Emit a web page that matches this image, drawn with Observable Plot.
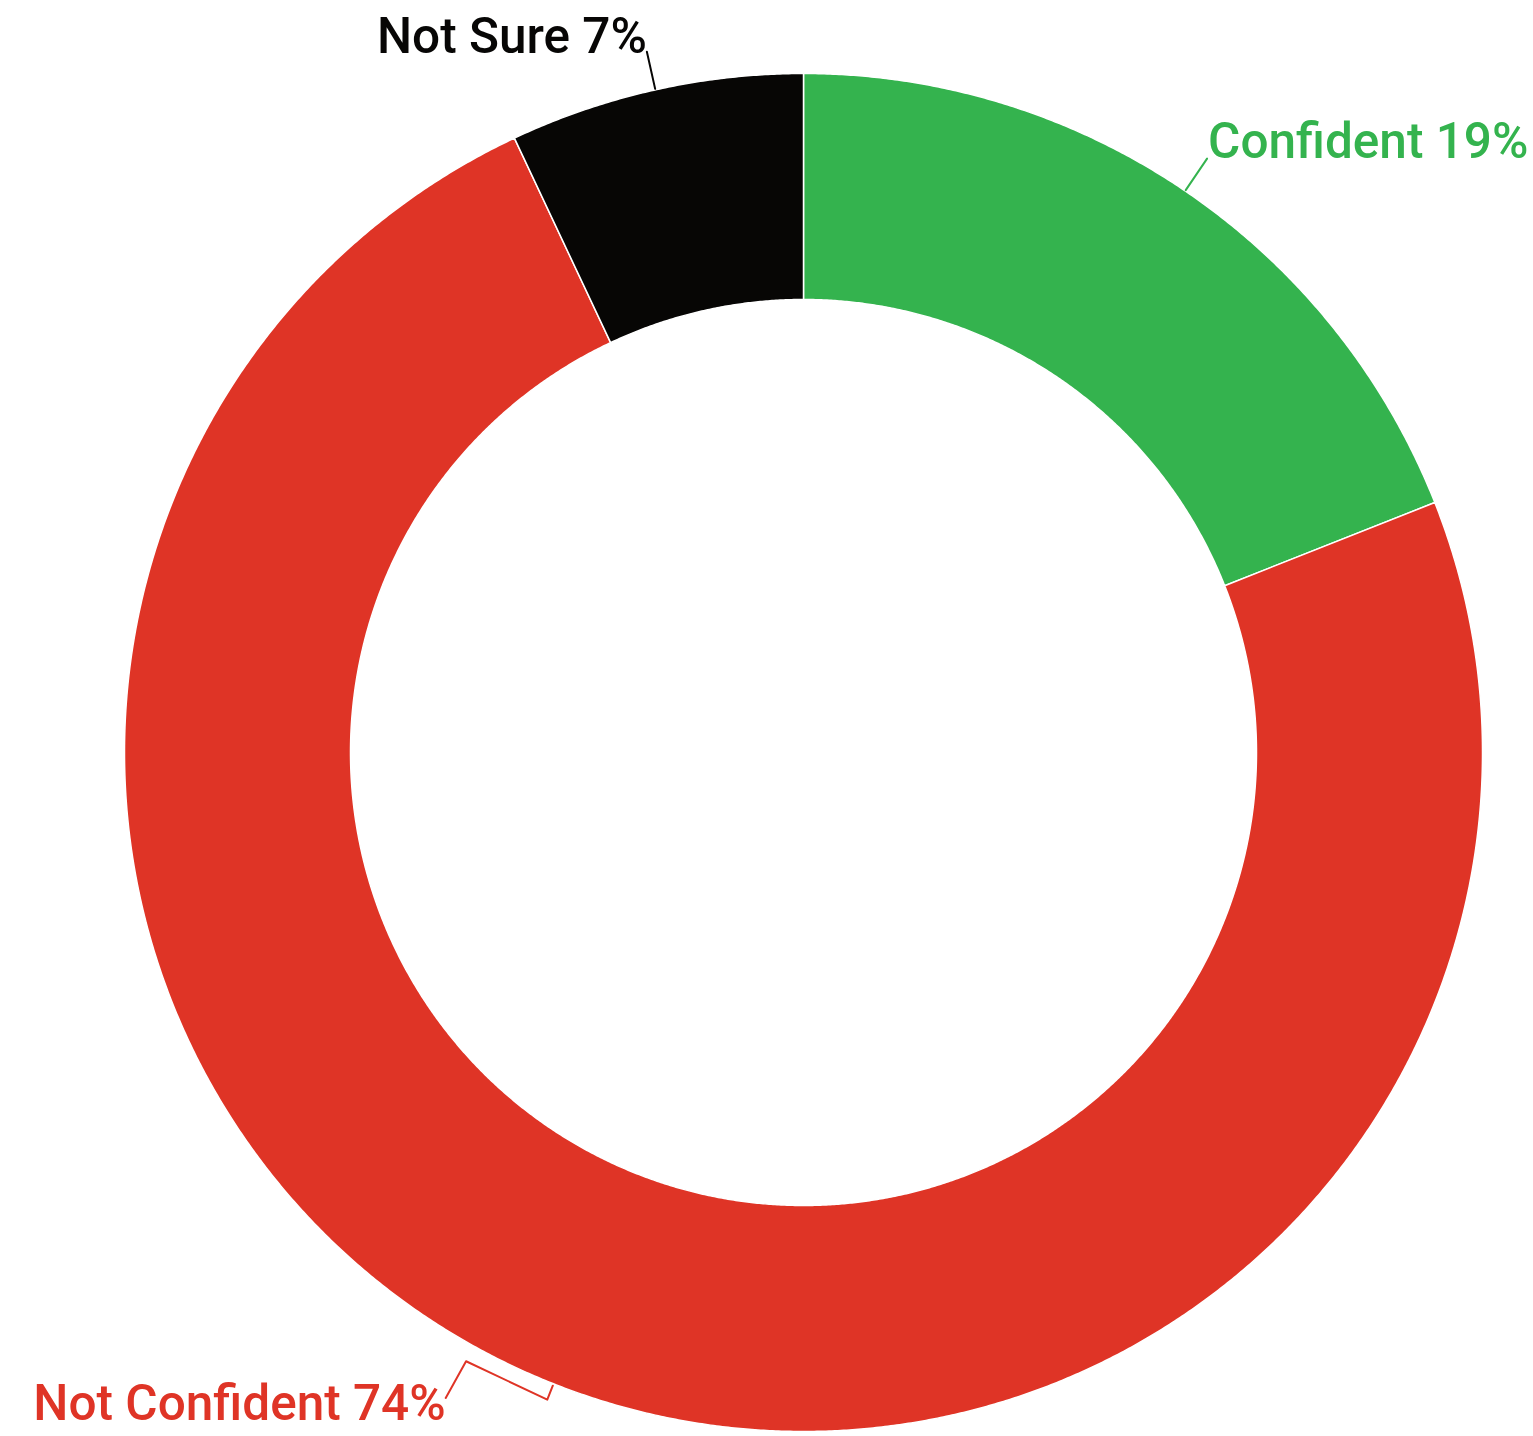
<!DOCTYPE html>
<html><head><meta charset="utf-8">
<script src="https://cdn.jsdelivr.net/npm/d3@7"></script>
<script src="https://cdn.jsdelivr.net/npm/@observablehq/plot@0.6"></script>
<style>html,body{margin:0;padding:0;background:#fff}svg{display:block}</style>
</head><body><div id="chart"></div>
<script>
// ---- data ----
const categories = ["Confident", "Not Confident", "Not Sure"];
const values = [19, 74, 7];
const colors = ["#34b34e", "#df3426", "#070605"];
const labels = ["Confident 19%", "Not Confident 74%", "Not Sure 7%"];

// ---- layout ----
const W = 1533, H = 1436, CX = 803, CY = 752;
const R_OUT = 679, R_IN = 453;
// leader paths per category: [angle offset from slice middle (deg), radius]
const leaderPaths = [
  [[0, 680], [0, 718]],
  [[0, 681], [0, 696], [7.4, 696], [7.4, 738]],
  [[0, 680], [0, 718]]
];
const textPlace = [
  {anchor: "start", dx: 1, dy: -1},
  {anchor: "end", dx: 0, dy: 22},
  {anchor: "end", dx: 0, dy: 1}
];

const total = d3.sum(values);
let acc = 0;
const slices = values.map((v, i) => {
  const a0 = acc / total * 360; acc += v; const a1 = acc / total * 360;
  return {i, a0, a1, mid: (a0 + a1) / 2};
});
const pol = (r, deg) => ({x: r * Math.sin(deg * Math.PI / 180), y: r * Math.cos(deg * Math.PI / 180)});

const ringMarks = slices.map(s => {
  const n = Math.max(2, Math.ceil((s.a1 - s.a0) * 4));
  const pts = [];
  for (let k = 0; k <= n; k++) pts.push(pol(R_OUT, s.a0 + (s.a1 - s.a0) * k / n));
  for (let k = n; k >= 0; k--) pts.push(pol(R_IN, s.a0 + (s.a1 - s.a0) * k / n));
  return Plot.line(pts, {x: "x", y: "y", fill: colors[s.i], stroke: "white", strokeWidth: 1.5, curve: "linear-closed"});
});

const leaderMarks = slices.map(s => {
  const pts = leaderPaths[s.i].map(([da, r]) => pol(r, s.mid + da));
  return Plot.line(pts, {x: "x", y: "y", stroke: colors[s.i], strokeWidth: 2});
});

const textMarks = slices.map(s => {
  const path = leaderPaths[s.i];
  const [da, r] = path[path.length - 1];
  const p = pol(r, s.mid + da);
  const tp = textPlace[s.i];
  return Plot.text([{...p, label: labels[s.i]}], {
    x: "x", y: "y", text: "label", fill: colors[s.i],
    textAnchor: tp.anchor, lineAnchor: "bottom", dx: tp.dx, dy: tp.dy,
    fontSize: 49.5, fontWeight: 500, fontFamily: "Roboto"
  });
});

const chart = Plot.plot({
  width: W, height: H,
  margin: 0,
  x: {domain: [-CX, W - CX], axis: null},
  y: {domain: [-(H - CY), CY], axis: null},
  marks: [...ringMarks, ...leaderMarks, ...textMarks]
});
document.getElementById("chart").appendChild(chart);
</script>
</body></html>
